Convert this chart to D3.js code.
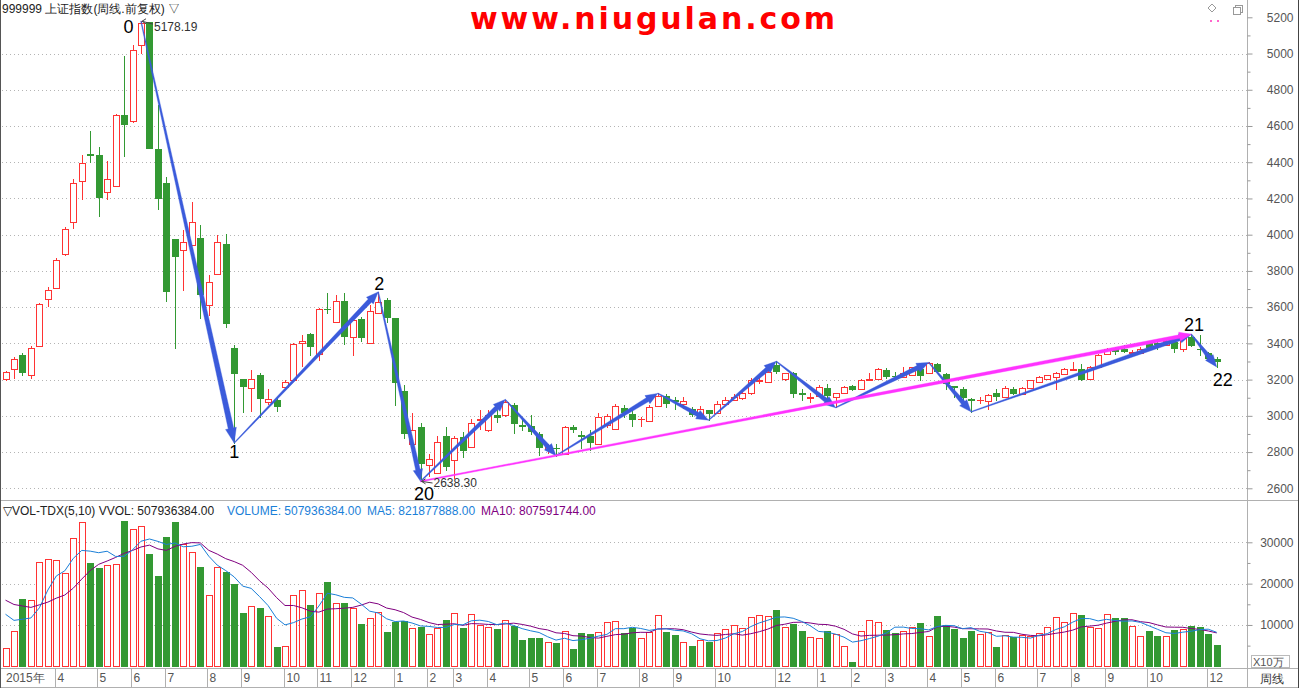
<!DOCTYPE html>
<html><head><meta charset="utf-8">
<script src="https://cdn.jsdelivr.net/npm/d3@7"></script>
<style>
body{margin:0;background:#fff;overflow:hidden;}
svg{display:block;font-family:"Liberation Sans",Arial,sans-serif;}
</style></head><body>
<svg id="c" width="1299" height="688"></svg>
<script>
// ---------- data (weekly, 上证指数) ----------
const opens=[3206,3256,3335,3225,3385,3643,3706,3896,4071,4297,4447,4442,4233,4270,4660,4628,5046,5175,4472,4288,
3975,3918,3942,3984,3614,3782,3946,3372,3206,3151,3225,3075,3087,3157,3197,3400,3452,3339,3592,3520,
3634,3433,3535,3404,3570,3640,3538,3136,2847,2936,2731,2687,2890,2755,2884,2829,2976,2921,3004,3004,
3059,2952,2945,2899,2816,2825,2792,2939,2895,2888,2842,2950,2925,3046,3011,2980,2972,3057,3109,3085,
3068,3035,3004,3031,3017,3065,3090,3096,3124,3190,3188,3280,3203,3234,3126,3097,3109,3153,3105,3124,
3164,3146,3197,3201,3253,3222,3216,3225,3256,3234,3286,3231,3162,3146,3093,3085,3083,3127,3105,3150,
3122,3156,3187,3206,3215,3230,3252,3261,3206,3270,3341,3367,3369,3348,3345,3400,3402,3391,3409,3367,
3437,3370,3348,3311];
const highs=[3250,3323,3345,3387,3625,3712,3870,4045,4310,4439,4571,4485,4408,4665,4985,5046,5178.19,5176,4718,4316,
3975,4028,4178,4052,3776,3997,4006,3391,3206,3253,3234,3150,3096,3197,3400,3446,3455,3594,3676,3667,
3676,3547,3547,3612,3684,3649,3538,3170,3013,2961,2788,2888,2936,2888,2912,2980,3031,3031,3031,3090,
3070,2985,3004,2910,2847,2847,2943,2948,2915,2921,3013,3010,3065,3059,3031,2991,3059,3124,3120,3105,
3105,3050,3054,3031,3080,3105,3120,3130,3210,3210,3250,3301,3238,3243,3146,3124,3170,3173,3128,3165,
3170,3206,3236,3262,3262,3243,3269,3271,3271,3295,3289,3234,3164,3160,3096,3105,3120,3150,3165,3160,
3160,3200,3220,3226,3243,3263,3296,3285,3275,3340,3376,3380,3390,3365,3380,3410,3422,3425,3418,3446,
3450,3446,3350,3326];
const lows=[3195,3201,3225,3201,3380,3602,3700,3880,4034,4190,4402,4104,4190,4264,4435,4617,5000,4476,4144,3635,
3375,3690,3942,3541,3552,3776,3491,2850,3022,3019,2991,3060,3028,3140,3193,3271,3335,3304,3570,3515,
3396,3332,3415,3400,3565,3520,3059,2875,2840,2638.3,2663,2687,2700,2650,2773,2820,2921,2912,2967,2995,
2906,2921,2900,2786,2788,2780,2792,2912,2820,2810,2840,2935,2921,2995,2943,2936,2967,3050,3050,3040,
3040,3000,2995,2976,3010,3060,3085,3090,3115,3175,3185,3238,3194,3105,3087,3072,3105,3100,3045,3120,
3140,3140,3195,3198,3210,3201,3210,3220,3197,3230,3240,3150,3105,3080,3022,3065,3031,3087,3100,3118,
3115,3150,3180,3200,3141,3225,3248,3200,3200,3265,3335,3340,3350,3340,3340,3375,3367,3385,3355,3355,
3385,3335,3310,3270];
const closes=[3243,3312,3243,3372,3616,3692,3863,4034,4288,4393,4441,4209,4310,4660,4612,5022,5166,4481,4200,3690,
3883,3957,4071,3670,3740,3960,3515,3238,3166,3201,3100,3092,3054,3186,3396,3411,3387,3588,3590,3634,
3440,3529,3437,3579,3627,3544,3188,2906,2921,2740,2764,2856,2724,2875,2814,2958,2984,3004,2992,3077,
2961,2943,2917,2829,2829,2822,2939,2930,2890,2856,2991,3000,3057,3022,2985,2985,3050,3109,3072,3083,
3081,3009,3035,3013,3065,3090,3105,3124,3197,3196,3243,3249,3234,3127,3123,3102,3157,3114,3124,3157,
3146,3197,3201,3256,3219,3219,3238,3267,3225,3289,3249,3179,3160,3105,3090,3087,3114,3109,3156,3126,
3156,3197,3215,3224,3239,3257,3261,3206,3270,3335,3367,3360,3357,3354,3369,3382,3398,3415,3372,3428,
3391,3367,3322,3302];
// volume, unit: 10万
const volumes=[4500,8550,16400,16000,25300,26000,25600,22600,31000,35000,25100,23700,24400,24700,35100,33100,34000,27100,21800,31400,
34800,29500,27700,24000,17200,24000,22900,20000,12900,14500,14000,12100,4700,4800,17200,18400,14800,17700,20300,15300,
15300,14100,10200,11800,13100,8300,10700,10900,9350,9600,7700,9350,11100,12800,9200,12600,10100,9500,8950,11100,
9700,6300,6900,6900,6000,5600,8500,4100,8000,7700,8200,10600,11000,8000,9350,6800,8300,12500,8400,7600,
6000,4900,6400,5900,8000,9000,10000,9200,11900,12400,12200,13700,9500,10300,8600,7000,6800,8600,7900,4900,
1050,8500,11200,10700,8800,8100,8600,9500,10500,7300,12200,10000,9100,6900,8600,7800,8300,4700,7500,7000,
7600,7300,8100,9500,12000,10800,13000,12500,9400,9200,12700,11600,11600,9800,7400,8600,7400,7400,8900,9000,
9700,9400,7900,5079];
// the nine weeks before the first bar (only used by the moving averages)
const priorVolumes=[19000,20000,19500,19000,19500,16000,15000,14500,13000];

const priceTicks=[2600,2800,3000,3200,3400,3600,3800,4000,4200,4400,4600,4800,5000,5200];
const priceMinorTicks=[2700,2900,3100,3300,3500,3700,3900,4100,4300,4500,4700,4900,5100];
const volTicks=[10000,20000,30000];
const volMinorTicks=[5000,15000,25000];
const monthLabels=["2015年","4","5","6","7","8","9","10","11","12","1","2","3","4","5","6","7","8","9","10","12","1","2","3","4","5","6","7","8","9","10","12"];
const monthIndex=[0,6,11,15,19,24,28,33,37,41,46,50,53,57,62,66,70,75,79,84,91,96,100,104,109,113,117,122,126,130,135,142];

// wave points: [bar index, price]
const waveIdx=[16,27,44,49,59,65,77,83,91,98,109,114,140,143];
const wavePrice=[5178.19,2850,3684,2638.3,3090,2780,3124,2976,3301,3045,3295,3022,3450,3270];
const waveLabels=[[0,"0"],[1,"1"],[2,"2"],[3,"20"],[12,"21"],[13,"22"]];
const trendFrom=3, trendTo=12;
const headerText="999999 上证指数(周线.前复权) ▽";
const volHeader=["▽VOL-TDX(5,10) VVOL: 507936384.00","VOLUME: 507936384.00","MA5: 821877888.00","MA10: 807591744.00"];
const siteText="www.niugulan.com";

// ---------- drawing ----------
const RED="#ff3333", GREEN="#339933", BLUE="#3b5bdb", MAG="#ff33ff";
const svg=d3.select("#c");
const N=closes.length;
const x=d3.scaleLinear().domain([0,143]).range([5.5,1216.7]);
const y=d3.scaleLinear().domain([2600,5200]).range([488.3,17.3]);
const yv=d3.scaleLinear().domain([0,30000]).range([666.3,542.3]);
const AX=1247;

svg.append("rect").attr("width",1299).attr("height",688).attr("fill","#fff");

// grid
const grid=svg.append("g").attr("stroke","#b4b4b4").attr("stroke-dasharray","1,3").attr("stroke-width",1).attr("shape-rendering","crispEdges");
priceTicks.filter(t=>t<5200).forEach(t=>{
  const yy=Math.round(y(t))+0.5;
  grid.append("line").attr("x1",2).attr("x2",AX).attr("y1",yy).attr("y2",yy);
});
volTicks.forEach(t=>{
  const yy=Math.round(yv(t))+0.5;
  grid.append("line").attr("x1",2).attr("x2",AX).attr("y1",yy).attr("y2",yy);
});

// frame lines
const fr=svg.append("g").attr("stroke","#b0b0b0").attr("stroke-width",1).attr("shape-rendering","crispEdges");
fr.append("line").attr("x1",AX+0.5).attr("x2",AX+0.5).attr("y1",0).attr("y2",688);
fr.append("line").attr("x1",0).attr("x2",1299).attr("y1",500.5).attr("y2",500.5);
fr.append("line").attr("x1",0).attr("x2",1299).attr("y1",668.5).attr("y2",668.5);
fr.append("line").attr("x1",0).attr("x2",1299).attr("y1",687.5).attr("y2",687.5);
svg.append("line").attr("x1",0.5).attr("x2",0.5).attr("y1",0).attr("y2",688).attr("stroke","#555");
svg.append("line").attr("x1",1298.5).attr("x2",1298.5).attr("y1",0).attr("y2",688).attr("stroke","#444");

// axes (right)
function styleAxis(g){
  g.select(".domain").remove();
  g.selectAll(".tick line").attr("stroke","#999");
  g.selectAll(".tick text").attr("fill","#555").attr("font-size","12px")
   .attr("font-family","'Liberation Sans',Arial,sans-serif").attr("text-anchor","end").attr("x",46);
}
svg.append("g").attr("transform",`translate(${AX+0.5},0)`)
  .call(d3.axisRight(y).tickValues(priceTicks).tickSize(5).tickFormat(d3.format("d"))).call(styleAxis);
svg.append("g").attr("transform",`translate(${AX+0.5},0)`)
  .call(d3.axisRight(y).tickValues(priceMinorTicks).tickSize(3).tickFormat("")).call(g=>{g.select(".domain").remove();g.selectAll("line").attr("stroke","#999");});
svg.append("g").attr("transform",`translate(${AX+0.5},0)`)
  .call(d3.axisRight(yv).tickValues(volTicks).tickSize(5).tickFormat(d3.format("d"))).call(styleAxis);
svg.append("g").attr("transform",`translate(${AX+0.5},0)`)
  .call(d3.axisRight(yv).tickValues(volMinorTicks).tickSize(3).tickFormat("")).call(g=>{g.select(".domain").remove();g.selectAll("line").attr("stroke","#999");});

// X10万 box and 周线
svg.append("rect").attr("x",1251.5).attr("y",655.5).attr("width",38).attr("height",12).attr("fill","#fff").attr("stroke","#bbb");
svg.append("text").attr("x",1253).attr("y",666).attr("font-size","11px").attr("fill","#555").text("X10万");
svg.append("text").attr("x",1272).attr("y",683).attr("text-anchor","middle").attr("font-size","12px").attr("fill","#333").text("周线");

// month axis
const mg=svg.append("g");
monthIndex.forEach((mi,k)=>{
  const tx=Math.round(x(mi)-1.5)+0.5;
  if(mi>0) mg.append("line").attr("x1",tx).attr("x2",tx).attr("y1",669).attr("y2",688).attr("stroke","#b0b0b0");
  mg.append("text").attr("x",mi>0?tx+2:6).attr("y",682).attr("font-size","12px").attr("fill","#555").text(monthLabels[k]);
});

// candles
const cg=svg.append("g").attr("shape-rendering","crispEdges");
for(let i=0;i<N;i++){
  const o=opens[i],c=closes[i],h=highs[i],l=lows[i];
  const cx=Math.round(x(i));
  const up=c>=o;
  const col=up?RED:GREEN;
  const yt=Math.round(y(Math.max(o,c))), yb=Math.round(y(Math.min(o,c)));
  const yh=Math.round(y(h)), yl=Math.round(y(l));
  if(up){
    if(yh<yt) cg.append("line").attr("x1",cx+0.5).attr("x2",cx+0.5).attr("y1",yh).attr("y2",yt).attr("stroke",col);
    if(yl>yb) cg.append("line").attr("x1",cx+0.5).attr("x2",cx+0.5).attr("y1",yb+1).attr("y2",yl).attr("stroke",col);
    if(yb-yt<1) cg.append("line").attr("x1",cx-3).attr("x2",cx+4).attr("y1",yt+0.5).attr("y2",yt+0.5).attr("stroke",col);
    else cg.append("rect").attr("x",cx-3+0.5).attr("y",yt+0.5).attr("width",6).attr("height",yb-yt).attr("fill","#fff").attr("stroke",col);
  } else {
    cg.append("line").attr("x1",cx+0.5).attr("x2",cx+0.5).attr("y1",yh).attr("y2",yl+1).attr("stroke",col);
    cg.append("rect").attr("x",cx-3).attr("y",yt).attr("width",7).attr("height",Math.max(1,yb-yt+1)).attr("fill",col);
  }
}

// volume bars
const vg=svg.append("g").attr("shape-rendering","crispEdges");
const v0=Math.round(yv(0));
for(let i=0;i<N;i++){
  const up=closes[i]>=opens[i];
  const cx=Math.round(x(i));
  const yt=Math.round(yv(volumes[i]));
  if(up) vg.append("rect").attr("x",cx-3+0.5).attr("y",yt+0.5).attr("width",6).attr("height",Math.max(1,v0-yt)).attr("fill","#fff").attr("stroke",RED);
  else vg.append("rect").attr("x",cx-3).attr("y",yt).attr("width",7).attr("height",Math.max(1,v0-yt+1)).attr("fill",GREEN);
}
// moving averages
const allVol=priorVolumes.concat(volumes);
const P=priorVolumes.length;
function ma(n){return volumes.map((_,i)=>d3.mean(allVol.slice(i+P-n+1,i+P+1)));}
const ma5=ma(5), ma10=ma(10);
const line=d3.line().x((d,i)=>x(i)).y(d=>yv(d)).curve(d3.curveLinear);
svg.append("path").attr("d",line(ma10)).attr("fill","none").attr("stroke","#800080").attr("stroke-width",1);
svg.append("path").attr("d",line(ma5)).attr("fill","none").attr("stroke","#1b7fd8").attr("stroke-width",1);

// tapered arrows
function taper(p,q,w0,w1,hl,hw,color){
  const dx=q[0]-p[0],dy=q[1]-p[1],L=Math.hypot(dx,dy);
  const ux=dx/L,uy=dy/L,nx=-uy,ny=ux;
  const bx=q[0]-ux*hl,by=q[1]-uy*hl;
  const pts=[[p[0]+nx*w0/2,p[1]+ny*w0/2],[bx+nx*w1/2,by+ny*w1/2],[bx+nx*hw/2,by+ny*hw/2],q,
    [bx-nx*hw/2,by-ny*hw/2],[bx-nx*w1/2,by-ny*w1/2],[p[0]-nx*w0/2,p[1]-ny*w0/2]];
  svg.append("path").attr("d","M"+pts.map(d=>d.join(",")).join("L")+"Z").attr("fill",color).attr("stroke",color).attr("stroke-width",0.4).attr("stroke-linejoin","round");
}
const wp=waveIdx.map((d,k)=>[x(d),y(wavePrice[k])]);
for(let k=0;k<wp.length-1;k++){
  const big=k===0;
  taper(wp[k],wp[k+1],0.8,big?5.5:4.5,big?15:12,big?11:9.5,BLUE);
}
taper(wp[trendFrom],wp[trendTo],1.2,3.6,12,9,MAG);

// wave labels
const labelOff={"0":[-12.5,12],"1":[0,15],"2":[1,-2],"20":[3.5,18.6],"21":[2.7,-3.3],"22":[6,19]};
waveLabels.forEach(([k,t])=>{
  svg.append("text").attr("x",wp[k][0]+labelOff[t][0]).attr("y",wp[k][1]+labelOff[t][1])
    .attr("text-anchor","middle").attr("font-size","18px").attr("fill","#000").text(t);
});

// extreme price notes
function note(i,price,dy){
  const px=x(i)+1,py=y(price);
  const g=svg.append("g").attr("stroke","#444").attr("fill","none");
  g.append("line").attr("x1",px).attr("y1",py).attr("x2",px+11).attr("y2",py+dy*0.3);
  g.append("path").attr("d",`M${px+4},${py-2.5}L${px},${py}L${px+4},${py+2.5}`);
  svg.append("text").attr("x",px+12).attr("y",py+dy).attr("font-size","12px").attr("fill","#333").text(d3.format(".2f")(price));
}
note(16,highs[16],9.5);
note(49,lows[49],5.5);

// header texts
svg.append("text").attr("x",2).attr("y",13).attr("font-size","12px").attr("fill","#222").text(headerText);
svg.append("text").attr("x",470).attr("y",29).attr("font-family","'DejaVu Sans',sans-serif").attr("font-weight","bold")
  .attr("font-size","30px").attr("fill","#ff0000").attr("textLength",365).attr("lengthAdjust","spacing").text(siteText);
// small window icons top-right
svg.append("path").attr("d","M1212,4L1216,8L1212,12L1208,8Z").attr("fill","none").attr("stroke","#999");
svg.append("rect").attr("x",1235.5).attr("y",5.5).attr("width",7).attr("height",7).attr("fill","none").attr("stroke","#999");
svg.append("rect").attr("x",1233.5).attr("y",7.5).attr("width",7).attr("height",7).attr("fill","#fff").attr("stroke","#999");
svg.append("rect").attr("x",1210).attr("y",20).attr("width",2).attr("height",2).attr("fill","#f6c");
svg.append("rect").attr("x",1217).attr("y",20).attr("width",2).attr("height",2).attr("fill","#f6c");

// volume header
const vh=svg.append("text").attr("y",515).attr("font-size","12px");
vh.append("tspan").attr("x",3).attr("fill","#222").text(volHeader[0]);
vh.append("tspan").attr("x",227).attr("fill","#1b7fd8").text(volHeader[1]);
vh.append("tspan").attr("x",367).attr("fill","#1b7fd8").text(volHeader[2]);
vh.append("tspan").attr("x",481).attr("fill","#800080").text(volHeader[3]);
</script>
</body></html>
